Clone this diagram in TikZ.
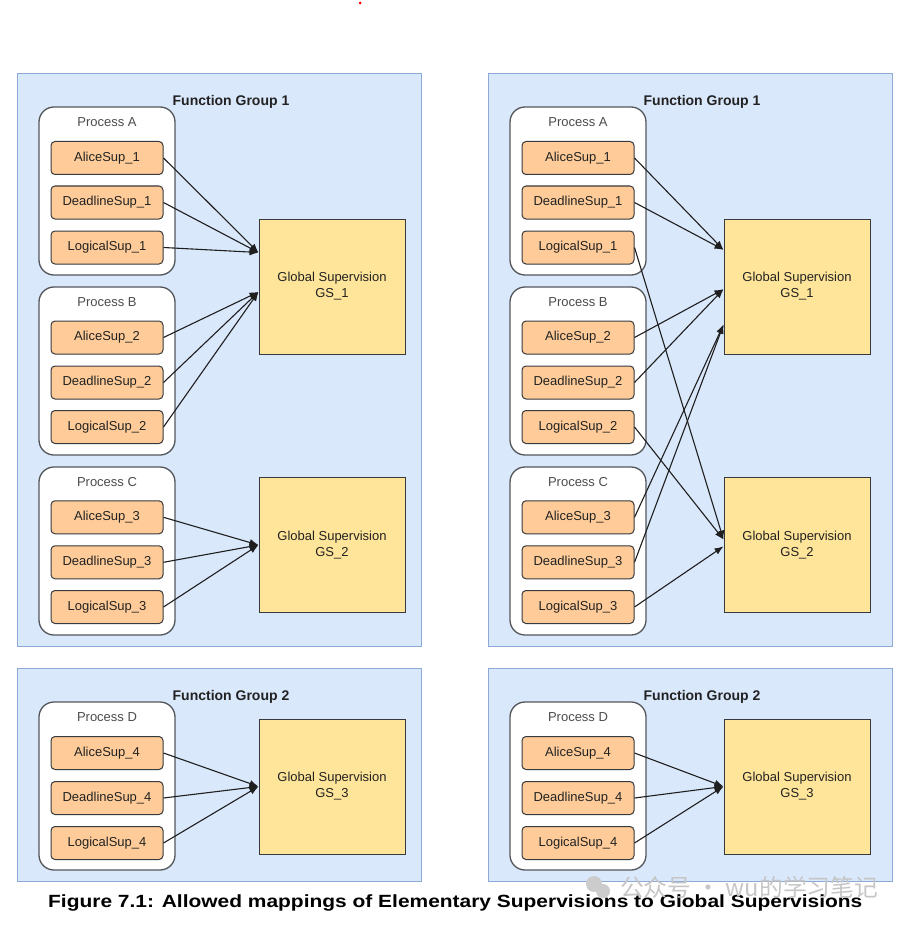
\documentclass[tikz,border=0pt]{standalone}
\usepackage{fontspec}
\setmainfont{Liberation Sans}
\newfontfamily\cjkfont{Noto Sans CJK SC}
\usetikzlibrary{calc,arrows.meta}
\definecolor{panelfill}{HTML}{DAE8FC}
\definecolor{panelline}{HTML}{8DA9D6}
\definecolor{supfill}{HTML}{FFCC99}
\definecolor{gsfill}{HTML}{FFE599}
\definecolor{darkline}{HTML}{36393D}
\definecolor{txt}{HTML}{222222}
\tikzset{
 panel/.style={draw=panelline, fill=panelfill, line width=1pt, minimum width=404pt, inner sep=0},
 procbox/.style={draw=darkline!85, fill=white, rounded corners=15pt, line width=1.3pt, minimum width=136pt, minimum height=168pt, inner sep=0},
 supbox/.style={draw=darkline, fill=supfill, rounded corners=4pt, line width=1pt, minimum width=112pt, minimum height=33pt, inner sep=0, font=\fontsize{13}{16}\selectfont, text=txt},
 gsbox/.style={draw=darkline, fill=gsfill, line width=1pt, minimum width=146pt, minimum height=135pt, inner sep=0, align=center, font=\fontsize{13}{16}\selectfont, text=txt},
 grouplabel/.style={font=\bfseries\fontsize{14}{16}\selectfont, text=txt, inner sep=0},
 proclabel/.style={font=\fontsize{13}{16}\selectfont, text=black!70, inner sep=0},
 arr/.style={draw=black!88, line width=1.1pt, -{Latex[length=9pt,width=7pt]}},
}
\newcommand{\halfdiagram}[3]{%
\begin{scope}[xshift=#2pt]
\node[panel, minimum height=572pt] (#1fg1) at (219,360) {};
\node[panel, minimum height=213pt] (#1fg2) at (219,774.5) {};
\node[grouplabel] (#1fg1t) at (231,102) {Function Group 1};
\node[grouplabel] (#1fg2t) at (231,697) {Function Group 2};
\node[procbox] (#1pA) at (107,191) {};
\node[procbox] (#1pB) at (107,371) {};
\node[procbox] (#1pC) at (107,551) {};
\node[procbox] (#1pD) at (107,786) {};
\node[proclabel] (#1pAt) at (107,122) {Process A};
\node[proclabel] (#1pBt) at (107,302) {Process B};
\node[proclabel] (#1pCt) at (107,482) {Process C};
\node[proclabel] (#1pDt) at (107,717) {Process D};
\node[supbox] (#1a1) at (107,158) {AliceSup\_1};
\node[supbox] (#1d1) at (107,202.5) {DeadlineSup\_1};
\node[supbox] (#1l1) at (107,247.5) {LogicalSup\_1};
\node[supbox] (#1a2) at (107,337.5) {AliceSup\_2};
\node[supbox] (#1d2) at (107,382.5) {DeadlineSup\_2};
\node[supbox] (#1l2) at (107,427) {LogicalSup\_2};
\node[supbox] (#1a3) at (107,517.3) {AliceSup\_3};
\node[supbox] (#1d3) at (107,562.3) {DeadlineSup\_3};
\node[supbox] (#1l3) at (107,607) {LogicalSup\_3};
\node[supbox] (#1a4) at (107,753) {AliceSup\_4};
\node[supbox] (#1d4) at (107,798) {DeadlineSup\_4};
\node[supbox] (#1l4) at (107,843) {LogicalSup\_4};
\node[gsbox] (#1gs1) at (#3,286.5) {Global Supervision\\GS\_1};
\node[gsbox] (#1gs2) at (#3,545) {Global Supervision\\GS\_2};
\node[gsbox] (#1gs3) at (#3,786.5) {Global Supervision\\GS\_3};
\end{scope}}
\begin{document}
\begin{tikzpicture}[x=1pt,y=-1pt]
\useasboundingbox (0,0) rectangle (909,928);
\fill[white] (0,0) rectangle (909,928);
\fill[red] (360,3) circle (1.5);
\halfdiagram{L}{0}{332}
\halfdiagram{R}{471}{326}
% targets, left
\coordinate (Lt1) at ($(Lgs1.north west)!0.25!(Lgs1.south west)$);
\coordinate (Lt2) at ($(Lgs1.north west)!0.54!(Lgs1.south west)$);
\coordinate (Lt3) at (Lgs2.west);
\coordinate (Lt4) at (Lgs3.west);
% targets, right
\coordinate (Rt1) at ($(Rgs1.north west)!0.23!(Rgs1.south west)$);
\coordinate (Rt2) at ($(Rgs1.north west)!0.52!(Rgs1.south west)$);
\coordinate (Rt3) at ($(Rgs1.north west)!0.78!(Rgs1.south west)$);
\coordinate (Rt4) at ($(Rgs2.north west)!0.46!(Rgs2.south west)$);
\coordinate (Rt5) at ($(Rgs2.north west)!0.51!(Rgs2.south west)$);
\coordinate (Rt6) at (Rgs3.west);
% left arrows
\foreach \s in {a1,d1,l1} \draw[arr] (L\s.east) -- (Lt1);
\foreach \s in {a2,d2,l2} \draw[arr] (L\s.east) -- (Lt2);
\foreach \s in {a3,d3,l3} \draw[arr] (L\s.east) -- (Lt3);
\foreach \s in {a4,d4,l4} \draw[arr] (L\s.east) -- (Lt4);
% right arrows
\foreach \s in {a1,d1} \draw[arr] (R\s.east) -- (Rt1);
\foreach \s in {a2,d2} \draw[arr] (R\s.east) -- (Rt2);
\foreach \s in {a3,d3} \draw[arr] (R\s.east) -- (Rt3);
\foreach \s in {l1,l2} \draw[arr] (R\s.east) -- (Rt4);
\draw[arr] (Rl3.east) -- (Rt5);
\foreach \s in {a4,d4,l4} \draw[arr] (R\s.east) -- (Rt6);
% caption
\node[anchor=base west, inner sep=0] (cap) at (48,907) {\resizebox{814pt}{12.8pt}{\bfseries Figure 7.1: Allowed mappings of Elementary Supervisions to Global Supervisions}};
% watermark
\fill[gray!40] (594,884) circle (8);
\fill[gray!40] (603,891) circle (7);
\node[anchor=west, inner sep=0, text=gray!45] (wm) at (620,887) {\resizebox{258pt}{!}{\cjkfont\fontsize{19}{20}\selectfont 公众号 · wu的学习笔记}};
\end{tikzpicture}
\end{document}
